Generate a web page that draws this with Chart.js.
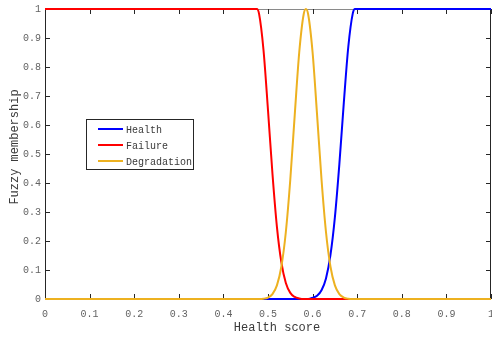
<!DOCTYPE html>
<html>
<head>
<meta charset="utf-8">
<script src="https://cdn.jsdelivr.net/npm/chart.js@4/dist/chart.umd.min.js"></script>
<style>
  html, body { margin: 0; padding: 0; background: #fff; }
  #wrap { width: 492px; height: 337px; }
</style>
</head>
<body>
<div id="wrap"><canvas id="chart" width="492" height="337"></canvas></div>
<script>
// values
const seriesNames = ["Health", "Failure", "Degradation"];
const seriesColors = ["#0000ff", "#ff0000", "#edb120"];

const healthX = [0, 0.59, 0.60, 0.61, 0.62, 0.63, 0.64, 0.65, 0.66, 0.67, 0.68, 0.69, 0.695, 0.75, 1];
const healthY = [0, 0, 0.004, 0.011, 0.03, 0.071, 0.151, 0.282, 0.465, 0.677, 0.869, 0.984, 1, 1, 1];

const failureX = [0, 0.40, 0.475, 0.48, 0.49, 0.50, 0.51, 0.52, 0.53, 0.54, 0.55, 0.56, 0.57, 0.58, 0.65, 1];
const failureY = [1, 1, 1, 0.983, 0.857, 0.651, 0.432, 0.249, 0.126, 0.055, 0.021, 0.007, 0.002, 0, 0, 0];

const degradX = [0, 0.40, 0.48, 0.49, 0.50, 0.51, 0.52, 0.53, 0.54, 0.55, 0.56, 0.57, 0.58, 0.585,
  0.59, 0.60, 0.61, 0.62, 0.63, 0.64, 0.65, 0.66, 0.67, 0.68, 0.69, 0.75, 1];
const degradY = [0, 0, 0, 0.001, 0.005, 0.017, 0.047, 0.112, 0.231, 0.412, 0.636, 0.85, 0.982, 1,
  0.982, 0.85, 0.636, 0.412, 0.231, 0.112, 0.047, 0.017, 0.005, 0.001, 0, 0, 0];

const xTicks = [0, 0.1, 0.2, 0.3, 0.4, 0.5, 0.6, 0.7, 0.8, 0.9, 1];
const yTicks = [0, 0.1, 0.2, 0.3, 0.4, 0.5, 0.6, 0.7, 0.8, 0.9, 1];
const xTitle = "Health score";
const yTitle = "Fuzzy membership";

const MONO = "'Liberation Mono', 'DejaVu Sans Mono', monospace";
const AXIS_COLOR = "#262626";
const TICK_COLOR = "#626262";

const toPoints = (xs, ys) => xs.map((x, i) => ({ x: x, y: ys[i] }));
// matlab style: 0 and 1 without decimals
const fmtTick = (v) => (v === 0 || v === 1 ? String(v) : v.toFixed(1));

// box, inward ticks, titles and legend, drawn like the matlab figure
const figurePlugin = {
  id: "figure",
  beforeDatasetsDraw(chart) {
    const { ctx, chartArea: a, scales } = chart;
    ctx.save();
    ctx.lineWidth = 1;
    // top edge looks lighter in the reference
    ctx.strokeStyle = "#8a8a8a";
    ctx.beginPath();
    ctx.moveTo(a.left, a.top + 0.5);
    ctx.lineTo(a.right, a.top + 0.5);
    ctx.stroke();
    ctx.strokeStyle = AXIS_COLOR;
    ctx.beginPath();
    ctx.moveTo(a.left + 0.5, a.top);
    ctx.lineTo(a.left + 0.5, a.bottom - 0.5);
    ctx.lineTo(a.right - 0.5, a.bottom - 0.5);
    ctx.lineTo(a.right - 0.5, a.top);
    ctx.stroke();
    ctx.beginPath();
    xTicks.forEach((t) => {
      const px = Math.round(scales.x.getPixelForValue(t)) + 0.5;
      ctx.moveTo(px, a.bottom);
      ctx.lineTo(px, a.bottom - 5);
      ctx.moveTo(px, a.top);
      ctx.lineTo(px, a.top + 5);
    });
    yTicks.forEach((t) => {
      const py = Math.round(scales.y.getPixelForValue(t)) + 0.5;
      ctx.moveTo(a.left, py);
      ctx.lineTo(a.left + 5, py);
      ctx.moveTo(a.right, py);
      ctx.lineTo(a.right - 5, py);
    });
    ctx.stroke();
    ctx.restore();
  },
  afterDraw(chart) {
    const { ctx } = chart;
    ctx.save();
    ctx.fillStyle = "#3a3a3a";
    ctx.font = "12px " + MONO;
    ctx.textAlign = "center";
    ctx.textBaseline = "middle";
    ctx.fillText(xTitle, 277, 328);
    ctx.translate(15, 147);
    ctx.rotate(-Math.PI / 2);
    ctx.fillText(yTitle, 0, 0);
    ctx.restore();

    // legend box
    ctx.save();
    ctx.fillStyle = "#fff";
    ctx.fillRect(86, 119, 107, 50);
    ctx.strokeStyle = AXIS_COLOR;
    ctx.lineWidth = 1;
    ctx.strokeRect(86.5, 119.5, 107, 50);
    ctx.font = "10px " + MONO;
    ctx.textAlign = "left";
    ctx.textBaseline = "middle";
    const rows = [129, 145, 161];
    seriesNames.forEach((name, i) => {
      ctx.strokeStyle = seriesColors[i];
      ctx.lineWidth = 2;
      ctx.beginPath();
      ctx.moveTo(98, rows[i]);
      ctx.lineTo(123, rows[i]);
      ctx.stroke();
      ctx.fillStyle = "#3a3a3a";
      ctx.fillText(name, 126, rows[i] + 1);
    });
    ctx.restore();
  }
};

new Chart(document.getElementById("chart"), {
  type: "line",
  data: {
    datasets: [
      { label: seriesNames[0], data: toPoints(healthX, healthY), borderColor: seriesColors[0], order: 2, clip: false },
      { label: seriesNames[1], data: toPoints(failureX, failureY), borderColor: seriesColors[1], order: 1, clip: false },
      { label: seriesNames[2], data: toPoints(degradX, degradY), borderColor: seriesColors[2], order: 0, clip: false }
    ]
  },
  options: {
    responsive: false,
    animation: false,
    events: [],
    layout: { padding: { top: 9, right: 1, left: 0, bottom: 0 } },
    elements: {
      line: { borderWidth: 2, cubicInterpolationMode: "monotone", fill: false },
      point: { radius: 0 }
    },
    plugins: { legend: { display: false }, tooltip: { enabled: false } },
    scales: {
      x: {
        type: "linear",
        min: 0,
        max: 1,
        afterFit(scale) { scale.height = 38; scale.paddingLeft = 0; scale.paddingRight = 0; },
        afterBuildTicks(scale) { scale.ticks = xTicks.map((v) => ({ value: v })); },
        grid: { display: false, drawTicks: false },
        border: { display: false },
        ticks: { font: { family: MONO, size: 10 }, color: TICK_COLOR, padding: 9, maxRotation: 0, autoSkip: false, callback: fmtTick }
      },
      y: {
        type: "linear",
        min: 0,
        max: 1,
        afterFit(scale) { scale.width = 45; scale.paddingTop = 0; scale.paddingBottom = 0; },
        afterBuildTicks(scale) { scale.ticks = yTicks.map((v) => ({ value: v })); },
        grid: { display: false, drawTicks: false },
        border: { display: false },
        ticks: { font: { family: MONO, size: 10 }, color: TICK_COLOR, padding: 4, autoSkip: false, callback: fmtTick }
      }
    }
  },
  plugins: [figurePlugin]
});
</script>
</body>
</html>
